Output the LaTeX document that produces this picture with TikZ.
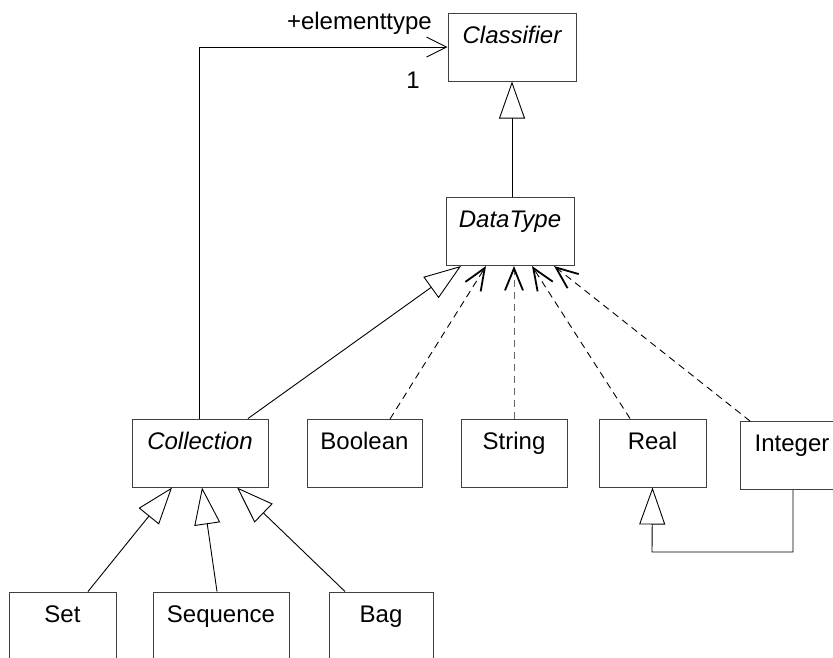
\documentclass[tikz,border=0pt]{standalone}
\usepackage{fontspec}
\setmainfont{Liberation Sans}
\usetikzlibrary{arrows.meta}

\begin{document}
\begin{tikzpicture}[x=1pt,y=1pt,yscale=-1,xscale=1,
  cls/.style={draw=black!75, line width=1pt, fill=white, inner sep=0pt,
    text height=30pt, text depth=38pt, font=\fontsize{24}{26}\selectfont},
  absname/.style={cls, font=\fontsize{24}{26}\selectfont\itshape},
  generalize/.style={line width=0.9pt, -{Triangle[open, length=37pt, width=26pt, line width=0.9pt]}},
  realize/.style={line width=0.9pt, dash pattern=on 7pt off 5pt,
    -{Straight Barb[length=22pt, width=18pt, line width=1.8pt, color=black]}},
  assoc/.style={line width=0.9pt, -{Straight Barb[length=20pt, width=20pt, line width=0.9pt]}},
  rolelabel/.style={font=\fontsize{24}{26}\selectfont, inner sep=0pt}]
%set diagram left start at 0, and has height of 657
\useasboundingbox (0,0) rectangle (833,657);
\begin{scope}
\clip (0,0) rectangle (833,657);

%Shape: Rectangle -- metaclasses
\node [absname, minimum width=128pt] (classifier) at (512,47) {Classifier};
\node [absname, minimum width=128pt] (datatype) at (510,231.5) {DataType};
\node [absname, minimum width=136pt] (collection) at (200,453) {Collection};

%Shape: Rectangle -- primitive types
\node [cls, minimum width=115pt] (boolean) at (364.5,453.5) {Boolean};
\node [cls, minimum width=106pt] (string) at (514,453) {String};
\node [cls, minimum width=107pt] (real) at (652.5,453) {Real};
\node [cls, minimum width=104pt] (integer) at (792,455.5) {Integer};

%Shape: Rectangle -- collection kinds
\node [cls, minimum width=107pt] (set) at (62.5,626) {Set};
\node [cls, minimum width=136pt] (sequence) at (221,626) {Sequence};
\node [cls, minimum width=104pt] (bag) at (381,626) {Bag};

%Straight Lines -- association to the element type
\coordinate (bend) at (199,47);
\draw [assoc] (collection.north -| bend) -- (bend) -- (classifier.west);
\node [rolelabel, anchor=base east] (role) at (432,29) {+elementtype};
\node [rolelabel, anchor=base] (mult) at (413,88) {1};

%Straight Lines -- generalizations
\draw [generalize] (datatype.north -| classifier.south) -- (classifier.south);
\draw [generalize] (collection.north -| 248,0) -- (datatype.south -| 461,0);
\draw [generalize] (set.north -| 88,0) -- (collection.south -| 172,0);
\draw [generalize] (sequence.north -| 217,0) -- (collection.south -| 202,0);
\draw [generalize] (bag.north -| 345,0) -- (collection.south -| 237,0);
\coordinate (loopright) at (793,552);
\coordinate (loopleft) at (652,552);
\draw [generalize] (integer.south -| loopright) -- (loopright) -- (loopleft) -- (real.south);

%Dashed Lines -- realizations
\draw [realize] (boolean.north -| 390,0) -- (datatype.south -| 486,0);
\draw [realize, draw=black!60] (string.north) -- (datatype.south -| string.north);
\draw [realize] (real.north -| 630,0) -- (datatype.south -| 532,0);
\draw [realize] (integer.north -| 750,0) -- (datatype.south -| 554,0);
\end{scope}

\end{tikzpicture}
\end{document}
